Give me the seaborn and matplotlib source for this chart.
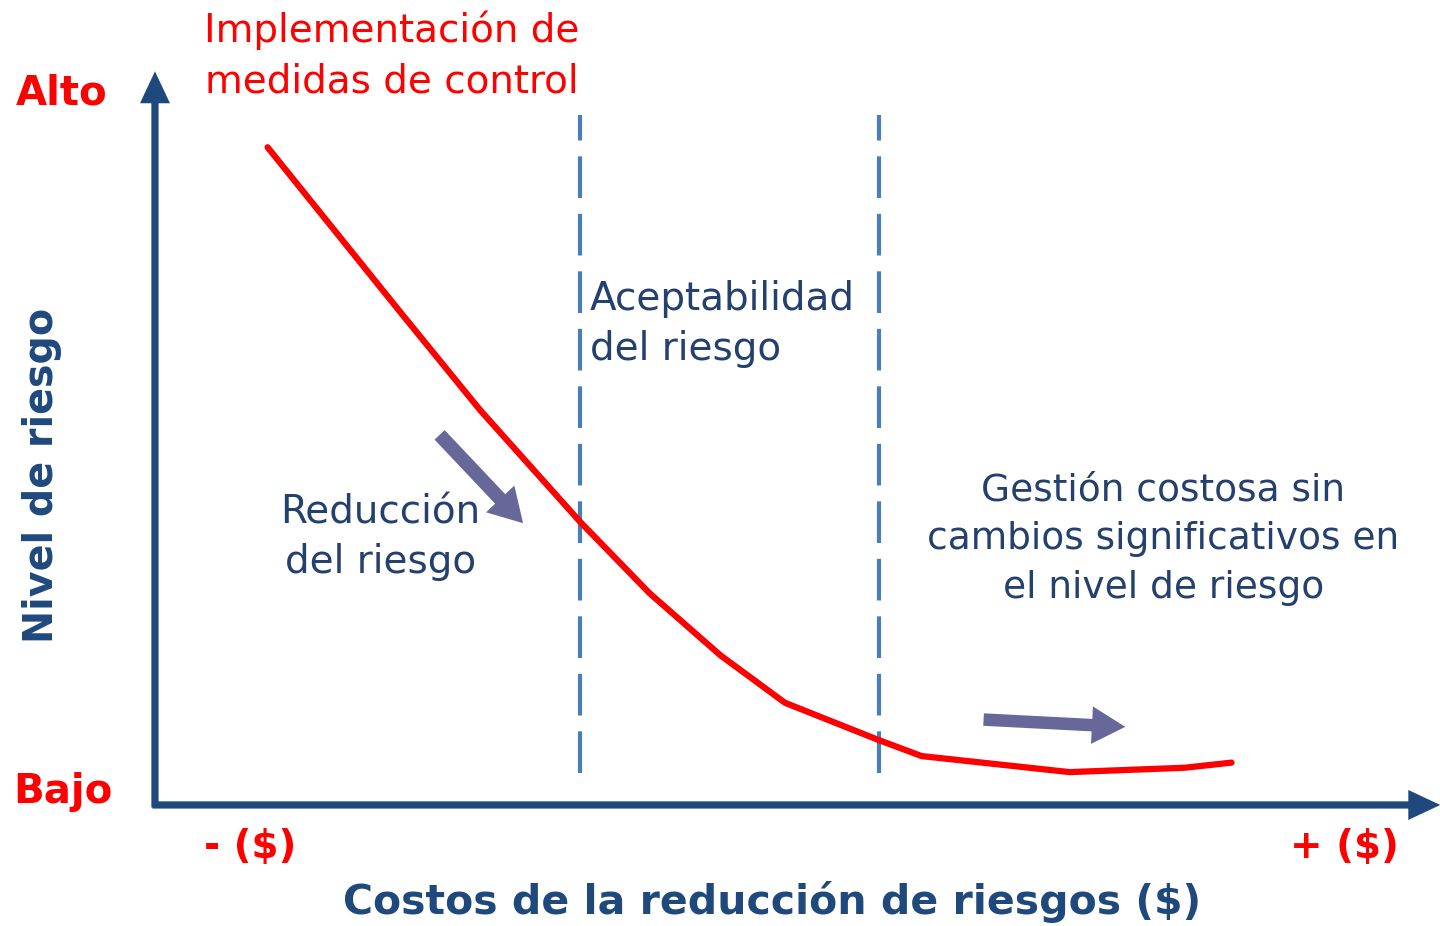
import numpy as np
import pandas as pd
import matplotlib
matplotlib.use("Agg")
import matplotlib.pyplot as plt
import seaborn as sns

sns.set_style("white")
plt.rcParams['font.family'] = ['DejaVu Sans']

# Data: cost of risk reduction (0-100) vs risk level (0-100)
costo = [8.9, 19.4, 25.7, 33.6, 39.1, 44.7, 49.8, 57.2, 60.6, 72.3, 81.4, 85.1]
riesgo = [90.1, 67.5, 54.1, 38.8, 29.0, 20.5, 14.0, 8.9, 6.7, 4.5, 5.1, 5.8]
umbrales = [33.6, 57.2]

df = pd.DataFrame({"costo": costo, "riesgo": riesgo})

RED = "#ff0000"
NAVY = "#1f497d"
TXT = "#24406e"
DASH = "#4a7ebb"
PURP = "#67679a"

fig = plt.figure(figsize=(14.4, 9.26), dpi=100)
ax = fig.add_axes([0, 0, 1, 1])
ax.set_xlim(-12.25, 101.58)
ax.set_ylim(-16.58, 110.27)
ax.axis("off")

# thresholds
for u in umbrales:
    ax.plot([u, u], [4.4, 94.5], color=DASH, lw=3, dashes=(10, 3.8))

# curve
sns.lineplot(data=df, x="costo", y="riesgo", ax=ax, color=RED, lw=4.5,
             sort=False, legend=False)

# axes arrows
axis_style = "simple,head_length=1.15,head_width=1.08,tail_width=0.26"
ax.annotate("", xy=(0, 100.5), xytext=(0, -0.35),
            arrowprops=dict(arrowstyle=axis_style, color=NAVY, lw=0,
                            shrinkA=0, shrinkB=0, mutation_scale=20))
ax.annotate("", xy=(101.6, 0), xytext=(-0.2, 0),
            arrowprops=dict(arrowstyle=axis_style, color=NAVY, lw=0,
                            shrinkA=0, shrinkB=0, mutation_scale=20))

# purple arrows
ax.annotate("", xy=(29.1, 38.6), xytext=(22.5, 50.7),
            arrowprops=dict(arrowstyle="simple,head_length=1.2,head_width=1.4,tail_width=0.5",
                            color=PURP, lw=0, shrinkA=0, shrinkB=0, mutation_scale=20))
ax.annotate("", xy=(76.7, 10.7), xytext=(65.5, 11.7),
            arrowprops=dict(arrowstyle="simple,head_length=1.2,head_width=1.35,tail_width=0.45",
                            color=PURP, lw=0, shrinkA=0, shrinkB=0, mutation_scale=20))

# texts
ax.text(18.7, 102.7, "Implementación de\nmedidas de control", color=RED, fontsize=28,
        ha="center", va="center", linespacing=1.4)
ax.text(-7.4, 97.5, "Alto", color=RED, fontsize=29, fontweight="bold", ha="center", va="center")
ax.text(-7.3, 1.8, "Bajo", color=RED, fontsize=29, fontweight="bold", ha="center", va="center")
ax.text(7.5, -5.8, "- ($)", color=RED, fontsize=28, fontweight="bold", ha="center", va="center")
ax.text(94.0, -5.8, "+ ($)", color=RED, fontsize=28, fontweight="bold", ha="center", va="center")
ax.text(-8.9, 45.2, "Nivel de riesgo", color=NAVY, fontsize=28.5, fontweight="bold",
        rotation=90, ha="center", va="center")
ax.text(48.8, -13.3, "Costos de la reducción de riesgos ($)", color=NAVY, fontsize=29.5,
        fontweight="bold", ha="center", va="center")
ax.text(34.4, 65.9, "Aceptabilidad\ndel riesgo", color=TXT, fontsize=28,
        ha="left", va="center", linespacing=1.4)
ax.text(17.8, 36.7, "Reducción\ndel riesgo", color=TXT, fontsize=28,
        ha="center", va="center", linespacing=1.4)
ax.text(79.7, 36.4, "Gestión costosa sin\ncambios significativos en\nel nivel de riesgo",
        color=TXT, fontsize=27, ha="center", va="center", linespacing=1.45)

fig.savefig("out.png", dpi=100)
